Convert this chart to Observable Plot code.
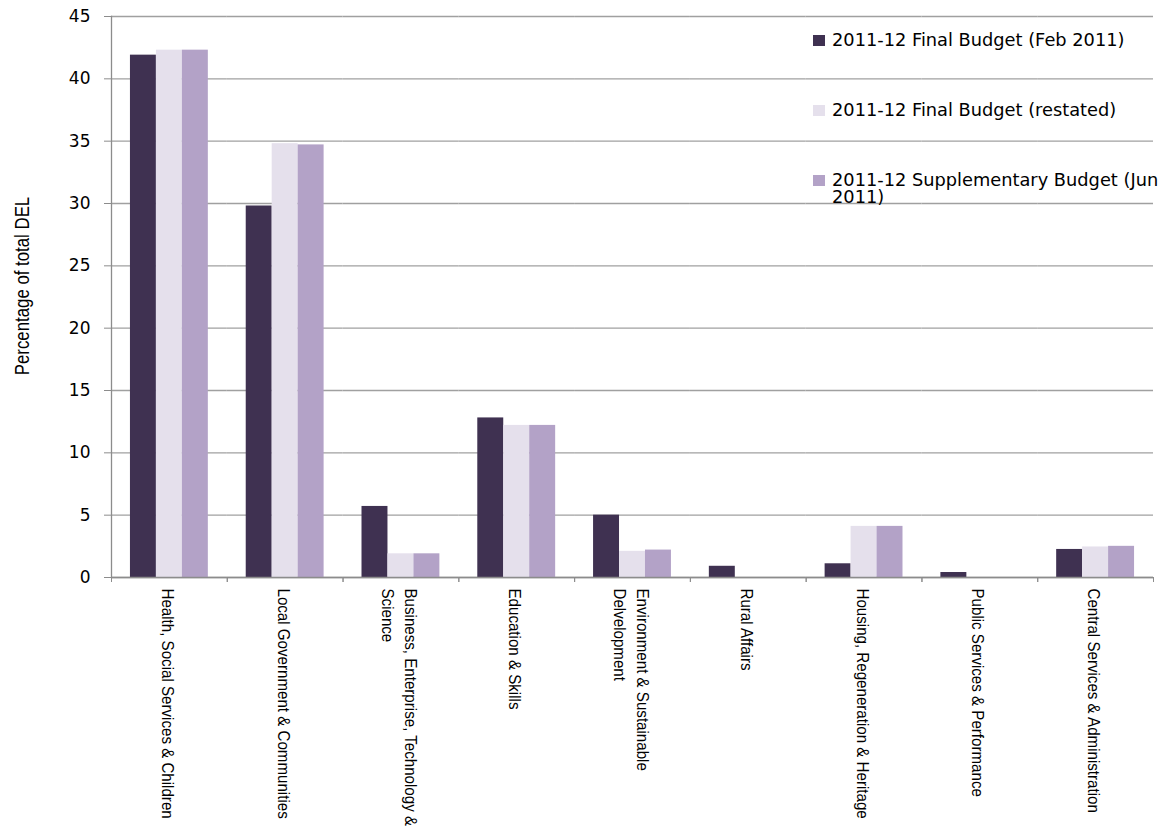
<!DOCTYPE html>
<html>
<head>
<meta charset="utf-8">
<script src="https://cdn.jsdelivr.net/npm/d3@7"></script>
<script src="https://cdn.jsdelivr.net/npm/@observablehq/plot@0.6"></script>
<style>
  html, body { margin: 0; padding: 0; background: #fff; }
  #wrap { position: relative; width: 1170px; height: 830px; overflow: hidden; }
  #ytitle {
    position: absolute; left: 22px; top: 286px;
    transform: translate(-50%, -50%) rotate(-90deg) scale(0.84, 1);
    font-family: "Liberation Sans", sans-serif;
    font-size: 20px; white-space: nowrap; color: #000;
  }
  #legend {
    position: absolute; left: 813px; top: 31px;
    font-family: "DejaVu Sans", sans-serif; font-size: 17.8px; color: #000;
  }
  .item { display: flex; align-items: flex-start; height: 70px; }
  .sw { width: 12px; height: 11px; margin-top: 4px; margin-right: 7px; flex: none; }
  .lab { width: 345px; line-height: 17px; }
</style>
</head>
<body>
<div id="wrap">
  <div id="chart"></div>
  <div id="ytitle"></div>
  <div id="legend"></div>
</div>
<script>
const categories = [
  "Health, Social Services & Children",
  "Local Government & Communities",
  "Business, Enterprise, Technology &\nScience",
  "Education & Skills",
  "Environment & Sustainable\nDelvelopment",
  "Rural Affairs",
  "Housing, Regeneration & Heritage",
  "Public Services & Performance",
  "Central Services & Administration"
];
const seriesNames = [
  "2011-12 Final Budget (Feb 2011)",
  "2011-12 Final Budget (restated)",
  "2011-12 Supplementary Budget (Jun 2011)"
];
const finalFeb      = [41.9, 29.8, 5.7, 12.8, 5.0, 0.9, 1.1, 0.4, 2.25];
const finalRestated = [42.3, 34.8, 1.9, 12.2, 2.1, 0,   4.1, 0,   2.45];
const supplementary = [42.3, 34.7, 1.9, 12.2, 2.2, 0,   4.1, 0,   2.5];
const colors = ["#3F3151", "#E5E0EC", "#B3A2C7"];
const yTicks = [0, 5, 10, 15, 20, 25, 30, 35, 40, 45];
const yTitle = "Percentage of total DEL";

const seriesValues = [finalFeb, finalRestated, supplementary];
const rows = [];
categories.forEach((c, i) => {
  seriesNames.forEach((s, j) => rows.push({category: c, series: s, value: seriesValues[j][i]}));
});

const W = 1170, H = 830, ml = 111, mr = 17, mt = 16, mb = 253;
const step = (W - ml - mr) / categories.length;
const axisGray = "#8c8c8c";

const chart = Plot.plot({
  width: W, height: H,
  marginLeft: ml, marginRight: mr, marginTop: mt, marginBottom: mb,
  style: {fontFamily: "DejaVu Sans, sans-serif", fontSize: "16px", color: "#000", background: "#fff"},
  fx: {domain: categories, padding: 0, round: false, label: null},
  x: {domain: seriesNames, paddingInner: 0, paddingOuter: 0.73, round: false, axis: null},
  y: {domain: [0, 45], label: null},
  color: {domain: seriesNames, range: colors},
  marks: [
    Plot.gridY(yTicks, {stroke: "#a0a0a0", strokeOpacity: 1, strokeWidth: 1.3}),
    Plot.barY(rows, {fx: "category", x: "series", y: "value", fill: "series"}),
    Plot.ruleY([0], {stroke: axisGray, strokeWidth: 1.3}),
    Plot.frame({anchor: "left", facetAnchor: "left", stroke: axisGray, strokeWidth: 1.3}),
    Plot.axisY(yTicks, {tickSize: 7, tickPadding: 14, label: null, stroke: axisGray, fontSize: 17, fill: "#000"}),
    Plot.axisFx({anchor: "bottom", tickSize: 0, tickPadding: 11, rotate: 90, textAnchor: "start", lineAnchor: "middle",
                 lineHeight: 1.35, label: null, fontFamily: "Liberation Sans, sans-serif", fontSize: 17, fill: "#000",
                 className: "catlabels", tickFormat: d => d}),
    Plot.axisFx({anchor: "bottom", tickSize: 5, dx: -step / 2, stroke: axisGray, label: null, tickFormat: () => ""}),
    Plot.axisFx({anchor: "bottom", tickSize: 5, dx: step / 2, stroke: axisGray, label: null, tickFormat: () => ""})
  ]
});
// condense the category labels along their reading direction (narrow typeface look)
chart.querySelectorAll(".catlabels text").forEach(t => {
  const tr = t.getAttribute("transform") || "";
  t.setAttribute("transform", tr + " scale(0.89,1)");
});
document.getElementById("chart").appendChild(chart);
document.getElementById("ytitle").textContent = yTitle;

const legend = document.getElementById("legend");
seriesNames.forEach((s, j) => {
  const item = document.createElement("div");
  item.className = "item";
  const sw = document.createElement("div");
  sw.className = "sw";
  sw.style.background = colors[j];
  const lab = document.createElement("div");
  lab.className = "lab";
  lab.textContent = s;
  item.appendChild(sw);
  item.appendChild(lab);
  legend.appendChild(item);
});
</script>
</body>
</html>
